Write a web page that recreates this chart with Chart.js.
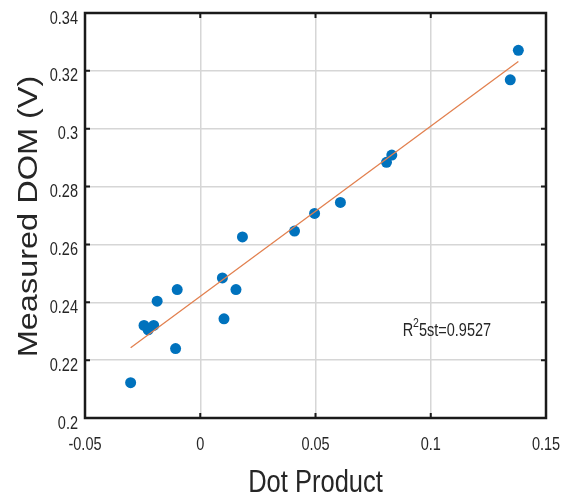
<!DOCTYPE html>
<html>
<head>
<meta charset="utf-8">
<script src="https://cdn.jsdelivr.net/npm/chart.js@4.4.1/dist/chart.umd.min.js"></script>
<style>
  html, body { margin: 0; padding: 0; background: #fff; }
  #wrap { width: 572px; height: 497px; }
</style>
</head>
<body>
<div id="wrap"><canvas id="domChart"></canvas></div>
<script>
// measured samples
const dotProduct = [-0.0302, -0.0244, -0.0226, -0.0202, -0.0187, -0.0107, -0.0100, 0.0096, 0.0103,
                    0.0155, 0.0183, 0.0409, 0.0496, 0.0608, 0.0808, 0.0831, 0.1345, 0.1380];
const measuredDom = [0.2122, 0.2320, 0.2305, 0.2320, 0.2404, 0.2240, 0.2444, 0.2484, 0.2343,
                     0.2444, 0.2626, 0.2646, 0.2707, 0.2745, 0.2884, 0.2909, 0.3169, 0.3271];

// least-squares fit line end points
const fitX = [-0.0302, 0.1380];
const fitY = [0.2243, 0.3232];

const xTicks = [-0.05, 0, 0.05, 0.1, 0.15];
const yTicks = [0.2, 0.22, 0.24, 0.26, 0.28, 0.3, 0.32, 0.34];
const xTickLabels = ['-0.05', '0', '0.05', '0.1', '0.15'];
const yTickLabels = ['0.2', '0.22', '0.24', '0.26', '0.28', '0.3', '0.32', '0.34'];

const fitNote = { x: 0.0878, y: 0.2285, base: 'R', sup: '2', rest: '5st=0.9527' };

const FONT = '"Liberation Sans", Arial, sans-serif';
const TEXT = '#262626';

// draws text squashed/stretched vertically
function tallText(ctx, str, x, y, size, sy, align, baseline) {
  ctx.save();
  ctx.translate(x, y);
  ctx.scale(1, sy);
  ctx.font = size + 'px ' + FONT;
  ctx.textAlign = align;
  ctx.textBaseline = baseline;
  ctx.fillText(str, 0, 0);
  ctx.restore();
}

const axesDecor = {
  id: 'axesDecor',
  afterDraw(chart) {
    const { ctx, chartArea: a, scales: { x, y } } = chart;
    ctx.save();

    // inner tick marks on all four sides
    ctx.strokeStyle = '#1a1a1a';
    ctx.lineWidth = 2;
    const tl = 5;
    ctx.beginPath();
    xTicks.forEach(v => {
      const px = x.getPixelForValue(v);
      ctx.moveTo(px, a.bottom); ctx.lineTo(px, a.bottom - tl);
      ctx.moveTo(px, a.top); ctx.lineTo(px, a.top + tl);
    });
    yTicks.forEach(v => {
      const py = y.getPixelForValue(v);
      ctx.moveTo(a.left, py); ctx.lineTo(a.left + tl, py);
      ctx.moveTo(a.right, py); ctx.lineTo(a.right - tl, py);
    });
    ctx.stroke();

    // box
    ctx.lineWidth = 2.5;
    ctx.strokeRect(a.left, a.top, a.right - a.left, a.bottom - a.top);

    // tick labels
    ctx.fillStyle = TEXT;
    xTicks.forEach((v, i) => {
      tallText(ctx, xTickLabels[i], x.getPixelForValue(v), 450, 14.5, 1.25, 'center', 'alphabetic');
    });
    yTicks.forEach((v, i) => {
      tallText(ctx, yTickLabels[i], 78, y.getPixelForValue(v) + 10.5, 14.5, 1.25, 'right', 'alphabetic');
    });

    // axis titles
    tallText(ctx, 'Dot Product', (a.left + a.right) / 2, 492, 25.5, 1.2, 'center', 'alphabetic');

    ctx.save();
    ctx.translate(37, 216.5);
    ctx.rotate(-Math.PI / 2);
    ctx.scale(1.16, 1);
    ctx.font = '28px ' + FONT;
    ctx.textAlign = 'center';
    ctx.textBaseline = 'alphabetic';
    ctx.fillText('Measured DOM (V)', 0, 0);
    ctx.restore();

    // fit annotation
    const nx = x.getPixelForValue(fitNote.x);
    const ny = y.getPixelForValue(fitNote.y);
    ctx.font = '14.5px ' + FONT;
    const wBase = ctx.measureText(fitNote.base).width;
    tallText(ctx, fitNote.base, nx, ny, 14.5, 1.28, 'left', 'alphabetic');
    ctx.font = '10.5px ' + FONT;
    const wSup = ctx.measureText(fitNote.sup).width;
    tallText(ctx, fitNote.sup, nx + wBase, ny - 9, 10.5, 1.28, 'left', 'alphabetic');
    tallText(ctx, fitNote.rest, nx + wBase + wSup, ny, 14.5, 1.28, 'left', 'alphabetic');

    ctx.restore();
  }
};

const samples = dotProduct.map((v, i) => ({ x: v, y: measuredDom[i] }));
const fitLine = fitX.map((v, i) => ({ x: v, y: fitY[i] }));

new Chart(document.getElementById('domChart'), {
  type: 'scatter',
  data: {
    datasets: [
      {
        label: 'Fit',
        type: 'line',
        data: fitLine,
        borderColor: '#E2804F',
        borderWidth: 1.3,
        pointRadius: 0,
        fill: false,
        order: 0
      },
      {
        label: 'Measured',
        data: samples,
        backgroundColor: '#0072BD',
        borderColor: '#0072BD',
        pointRadius: 5.5,
        pointBorderWidth: 0,
        order: 1
      }
    ]
  },
  options: {
    responsive: true,
    maintainAspectRatio: false,
    animation: false,
    layout: { padding: { top: 13, right: 26, left: 0, bottom: 0 } },
    plugins: {
      legend: { display: false },
      tooltip: { enabled: false }
    },
    scales: {
      x: {
        type: 'linear',
        min: -0.05,
        max: 0.15,
        afterBuildTicks: s => { s.ticks = xTicks.map(v => ({ value: v })); },
        afterFit: s => { s.height = 79; },
        ticks: { display: false },
        grid: { color: '#d6d6d6', lineWidth: 1.5, drawTicks: false },
        border: { display: false }
      },
      y: {
        type: 'linear',
        min: 0.2,
        max: 0.34,
        afterBuildTicks: s => { s.ticks = yTicks.map(v => ({ value: v })); },
        afterFit: s => { s.width = 85; },
        ticks: { display: false },
        grid: { color: '#d6d6d6', lineWidth: 1.5, drawTicks: false },
        border: { display: false }
      }
    }
  },
  plugins: [axesDecor]
});
</script>
</body>
</html>
